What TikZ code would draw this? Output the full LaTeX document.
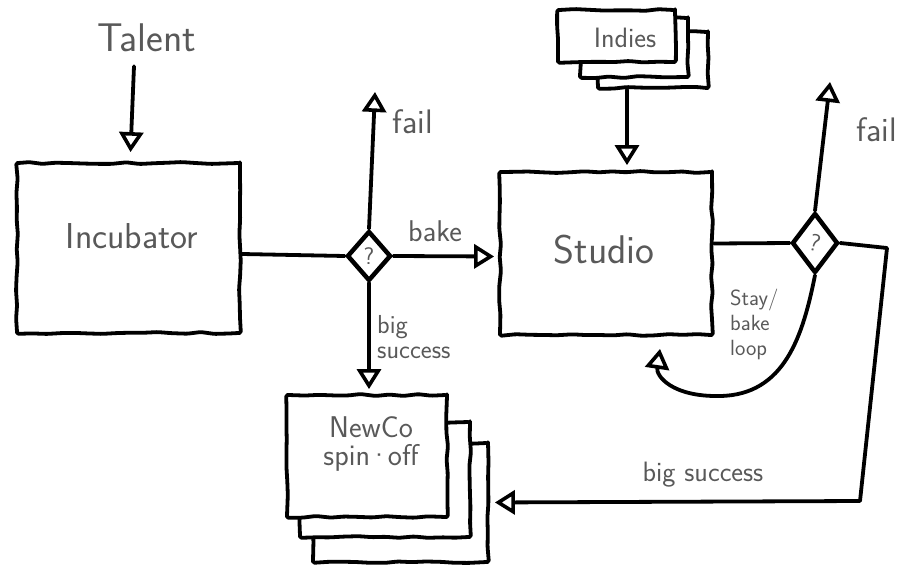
\documentclass[tikz,border=0pt]{standalone}
\usetikzlibrary{arrows.meta,shapes.geometric,decorations.pathmorphing}
\begin{document}
\pgfmathsetseed{12}
\begin{tikzpicture}[x=1pt,y=-1pt,
  ink/.style={line width=3.8pt, line join=round, line cap=round},
  rough/.style={decorate, decoration={random steps, segment length=14pt, amplitude=1pt}, rounded corners=1.5pt},
  box/.style={ink, rough, draw=black, fill=white, rectangle, inner sep=0pt},
  decision/.style={ink, line width=4.5pt, draw=black, fill=white, diamond, inner sep=0pt,
    font=\sffamily\fontsize{24}{24}\selectfont, text=black!65},
  hand/.style={font=\sffamily\fontsize{#1}{#1}\selectfont, text=black!65, inner sep=0pt},
  flow/.style={ink, -{Triangle[open, length=20pt, width=24pt, line width=3.6pt]}},
  link/.style={ink},
]
% canvas
\fill[white] (0,0) rectangle (899,567);
\useasboundingbox (0,0) rectangle (899,567);

% ---- boxes ----
\node[box, minimum width=223pt, minimum height=170pt] (inc) at (128.5,248) {};
\node[hand=36] (inctext) at (132,236) {Incubator};

\node[box, minimum width=212pt, minimum height=163pt] (studio) at (606,253.5) {};
\node[hand=40] (studiotext) at (604,250) {Studio};

% Indies stack
\node[box, minimum width=110pt, minimum height=56pt] (ind3) at (653,60) {};
\node[box, minimum width=108pt, minimum height=59pt] (ind2) at (634,47.5) {};
\node[box, minimum width=117pt, minimum height=52pt] (ind1) at (616.5,36) {};
\node[hand=28] (indtext) at (625,38) {Indies};

% NewCo stack
\node[box, minimum width=175pt, minimum height=119pt] (nc3) at (400.5,502.5) {};
\node[box, minimum width=170pt, minimum height=115pt] (nc2) at (385,479.5) {};
\node[box, minimum width=160pt, minimum height=122pt] (nc1) at (367,456) {};
\node[hand=30, font=\sffamily\fontsize{30}{28}\selectfont, align=center] (nctext) at (371,444) {NewCo\\spin\kern-2pt·\kern-2pt off};

% decisions
\node[decision, minimum width=44pt, minimum height=50pt] (d1) at (369,256) {?};
\node[decision, minimum width=46pt, minimum height=60pt] (d2) at (815,243) {\rotatebox{-15}{?}};

% ---- labels ----
\node[hand=40] (talent) at (147,38) {Talent};
\node[hand=34] (failA) at (413,122) {fail};
\node[hand=34] (failB) at (877,130) {fail};
\node[hand=30] (bakeA) at (435,231) {bake};
\node[hand=26, font=\sffamily\fontsize{26}{25}\selectfont, align=left, anchor=north west] (bigA) at (377,315) {big\\success};
\node[hand=22, font=\sffamily\fontsize{22}{25}\selectfont, align=left, anchor=north west] (loopA) at (730,289) {Stay/\\bake\\loop};
\node[hand=28] (bigB) at (703,475) {big success};

% ---- connectors ----
\coordinate (tipA) at (375,92);
\coordinate (tipB) at (830,82);
\coordinate (c1) at (887,248);
\coordinate (c2) at (860,501);

\draw[flow] ([xshift=-13pt,yshift=-14pt]talent.south) -- ([xshift=2pt,yshift=9pt]inc.north);
\draw[link] ([yshift=-6pt]inc.east) -- (d1.west);
\draw[flow] (d1.north) -- (tipA);
\draw[flow, shorten >=4pt] (d1.east) -- ([yshift=-3pt]studio.west);
\draw[flow, shorten >=4pt] (d1.south) -- (d1.south |- nc1.north);
\draw[flow, shorten >=5pt] ([xshift=-26pt]ind3.south) -- ([xshift=-26pt]ind3.south |- studio.north);
\draw[link] ([yshift=10pt]studio.east) -- (d2.west);
\draw[flow] (d2.north) -- (tipB);
\draw[flow, shorten >=5pt] (d2.east) -- (c1) -- (c2) -- (nc3.east);
\draw[flow] (d2.south) .. controls (803,335) and (785,395) .. (720,396)
  .. controls (672,397) and (656,376) .. ([xshift=54pt,yshift=-12pt]studio.south);
\end{tikzpicture}
\end{document}
